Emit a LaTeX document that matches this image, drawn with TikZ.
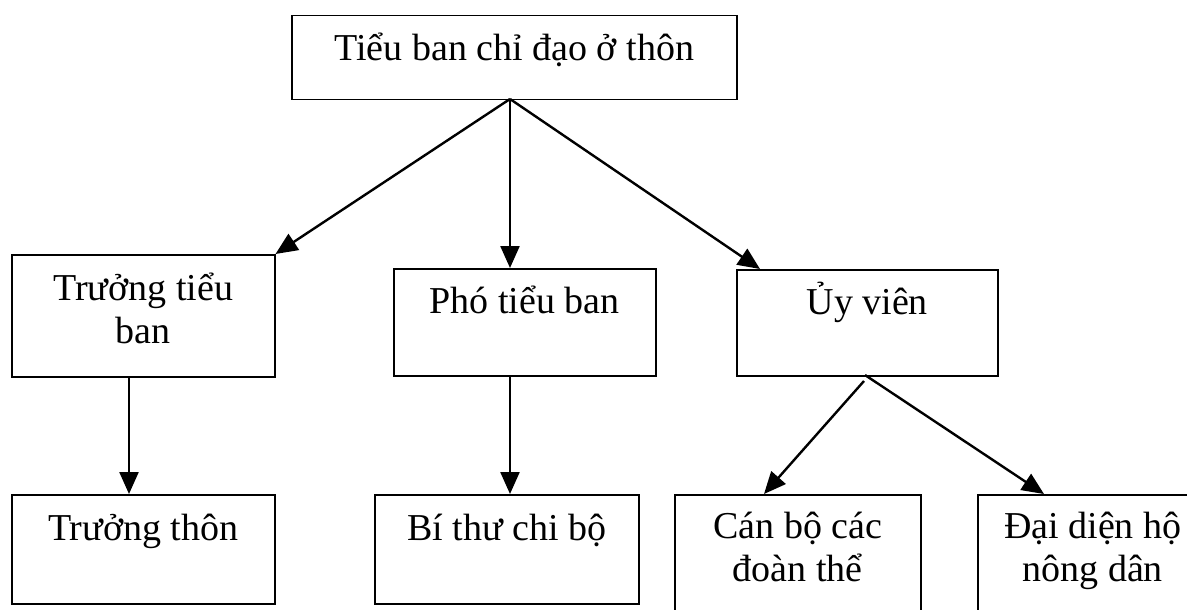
\documentclass[tikz,border=0pt]{standalone}
\usepackage{fontspec}
\setmainfont{Liberation Serif}
\usetikzlibrary{arrows.meta,positioning,calc}

\tikzset{
  box/.style={draw, line width=1.5pt, anchor=north west, inner sep=0pt},
  txt/.style={font=\fontsize{38pt}{43pt}\selectfont, align=center, anchor=base, inner sep=0pt},
  arr/.style={line width=2.4pt, -{Triangle[length=22pt,width=19pt]}},
}

\begin{document}
\begin{tikzpicture}[x=1pt,y=-1pt]
        \useasboundingbox (0,0) rectangle (1187,610);
        \clip (0,0) rectangle (1187,610);

        % boxes
        \node[box, minimum width=445pt, minimum height=84pt] (tieuban) at (291,15) {};
        \node[box, minimum width=263pt, minimum height=122pt] (truongtb) at (11,254) {};
        \node[box, minimum width=262pt, minimum height=107pt] (photb) at (393,268) {};
        \node[box, minimum width=261pt, minimum height=106pt] (uyvien) at (736,269) {};
        \node[box, minimum width=263pt, minimum height=109pt] (truongthon) at (11,494) {};
        \node[box, minimum width=264pt, minimum height=109pt] (bithu) at (374,494) {};
        \node[box, minimum width=246pt, minimum height=130pt] (canbo) at (674,494) {};
        \node[box, minimum width=230pt, minimum height=130pt] (daidien) at (977,494) {};

        % texts (base = last line)
        \node[txt] (tieubanT) at ($(tieuban.north)+(0,46)$) {Tiểu ban chỉ đạo ở thôn};
        \node[txt] (truongtbT) at ($(truongtb.north)+(0,89)$) {Trưởng tiểu\\ban};
        \node[txt] (photbT) at ($(photb.north)+(0,45)$) {Phó tiểu ban};
        \node[txt] (uyvienT) at ($(uyvien.north)+(0,45)$) {Ủy viên};
        \node[txt] (truongthonT) at ($(truongthon.north)+(0,46)$) {Trưởng thôn};
        \node[txt] (bithuT) at ($(bithu.north)+(0,46)$) {Bí thư chi bộ};
        \node[txt] (canboT) at ($(canbo.north)+(0,87)$) {Cán bộ các\\đoàn thể};
        \node[txt] (daidienT) at ($(daidien.north)+(0,87)$) {Đại diện hộ\\nông dân};

        % arrows
        \coordinate (tbs) at (510,99);
        \coordinate (uvs) at (865,375);
        \draw[arr] (tbs) -- (truongtb.north east);
        \draw[arr] (tbs) -- (tbs |- photb.north);
        \draw[arr] (tbs) -- ($(uyvien.north west)+(24,0)$);
        \draw[arr] (129,376) -- (129,494);
        \draw[arr] (tbs |- photb.south) -- (tbs |- bithu.north);
        \draw[arr] ($(uvs)+(-1,6)$) -- (764,494);
        \draw[arr] (uvs) -- (1044,494);

\end{tikzpicture}
\end{document}
